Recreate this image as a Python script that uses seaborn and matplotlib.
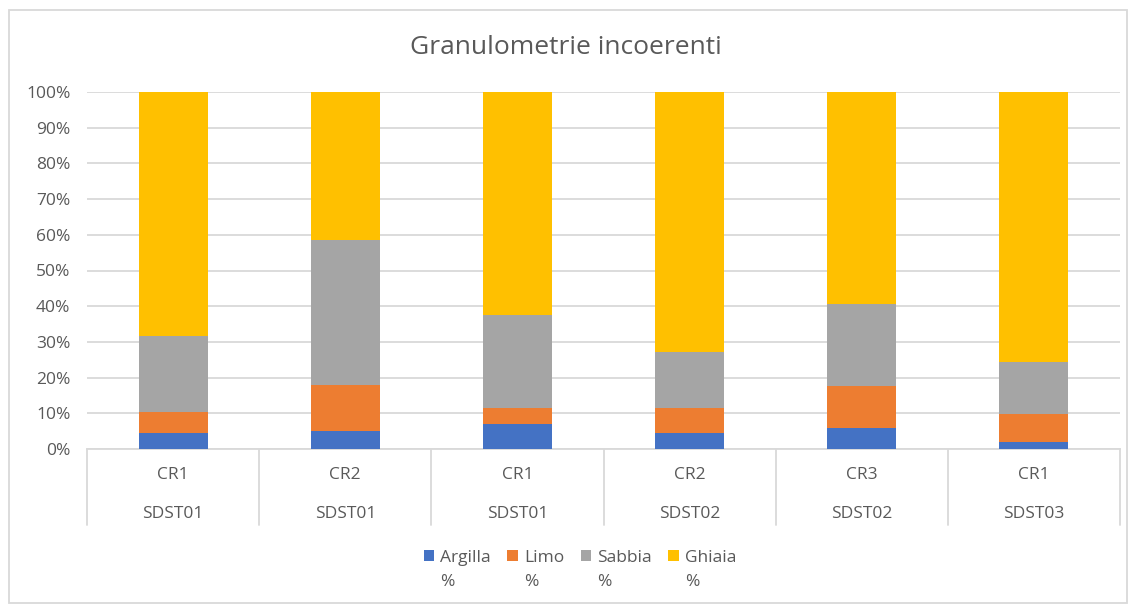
import numpy as np
import pandas as pd
import matplotlib
matplotlib.use("Agg")
import matplotlib.pyplot as plt
from matplotlib.patches import Rectangle, Patch
from matplotlib.lines import Line2D
import seaborn as sns

# data (percent of each sample)
campioni = ["CR1", "CR2", "CR1", "CR2", "CR3", "CR1"]
sondaggi = ["SDST01", "SDST01", "SDST01", "SDST02", "SDST02", "SDST03"]
argilla = [4.5, 5.0, 7.1, 4.5, 6.0, 2.0]
limo = [5.9, 12.8, 4.5, 7.1, 11.6, 7.8]
sabbia = [21.3, 40.7, 25.9, 15.5, 23.0, 14.6]
ghiaia = [68.3, 41.5, 62.5, 72.9, 59.4, 75.6]

serie = ["Argilla", "Limo", "Sabbia", "Ghiaia"]
unita = "%"
colori = ["#4472C4", "#ED7D31", "#A5A5A5", "#FFC000"]
grigio = "#595959"

sns.set_style("white")
plt.rcParams["font.family"] = ["Open Sans", "DejaVu Sans"]

df = pd.DataFrame({
    "id": [str(i) for i in range(len(campioni))],
    "Argilla": argilla, "Limo": limo, "Sabbia": sabbia, "Ghiaia": ghiaia,
})
totale = df[serie].sum(axis=1)
# normalise to 100% stacked
for s in serie:
    df[s] = df[s] / totale * 100
cum = df[serie].cumsum(axis=1)

W, H = 1131, 605
fig = plt.figure(figsize=(W / 100, H / 100), dpi=100)
ax = fig.add_axes([87 / W, 1 - 449 / H, (1120 - 87) / W, (449 - 92) / H])

# draw cumulative bars from the top series down so they stack
for s, c in zip(serie[::-1], colori[::-1]):
    sns.barplot(x=df["id"], y=cum[s], color=c, width=0.4, saturation=1,
                linewidth=0, ax=ax, zorder=3)

ax.set_ylim(0, 100)
ax.set_xlim(-0.5, len(campioni) - 0.5)
ax.set_yticks(np.arange(0, 101, 10))
ax.set_yticklabels([f"{v}%" for v in range(0, 101, 10)], color=grigio, fontsize=12.5)
ax.tick_params(axis="y", length=0, pad=12)
ax.set_xticks([])
ax.set_xlabel("")
ax.set_ylabel("")
ax.grid(axis="y", color="#D9D9D9", linewidth=1.3, zorder=0)
ax.set_axisbelow(True)
for sp in ["top", "right", "left"]:
    ax.spines[sp].set_visible(False)
ax.spines["bottom"].set_color("#D9D9D9")
ax.spines["bottom"].set_linewidth(1.3)

# multi-level category axis
trans = ax.get_xaxis_transform()
h_ax = (449 - 92)
for i in range(len(campioni) + 1):
    ax.add_line(Line2D([i - 0.5, i - 0.5], [0, -(525 - 449) / h_ax], transform=trans,
                       color="#D9D9D9", linewidth=1.3, clip_on=False))
for i, (c, s) in enumerate(zip(campioni, sondaggi)):
    ax.text(i, -(475 - 449) / h_ax, c, transform=trans, ha="center", va="center",
            color=grigio, fontsize=12.5)
    ax.text(i, -(514 - 449) / h_ax, s, transform=trans, ha="center", va="center",
            color=grigio, fontsize=12.5)

fig.text(0.5, 1 - 47 / H, "Granulometrie incoerenti", ha="center", va="center",
         color=grigio, fontsize=19)

# legend: series name on the first line, unit wrapped below it
handles = [Patch(facecolor=c, edgecolor="none") for c in colori]
leg = fig.legend(handles, serie, loc="center", bbox_to_anchor=(580 / W, 1 - 558 / H),
                 ncol=4, frameon=False, fontsize=12.5, labelcolor=grigio,
                 handlelength=0.6, handleheight=0.6, handletextpad=0.35,
                 columnspacing=0.95)
fig.canvas.draw()
inv = fig.transFigure.inverted()
for t in leg.get_texts():
    bb = t.get_window_extent()
    x0, y0 = inv.transform((bb.x0, bb.y0))
    fig.text(x0, y0 - 24 / H, unita, ha="left", va="bottom", color=grigio, fontsize=12.5)

# outer chart border
fig.add_artist(Rectangle((9 / W, 1 - 603 / H), (1127 - 9) / W, (603 - 10) / H,
                         transform=fig.transFigure, fill=False, edgecolor="#D9D9D9",
                         linewidth=1.3))

fig.savefig("out.png", dpi=100)
